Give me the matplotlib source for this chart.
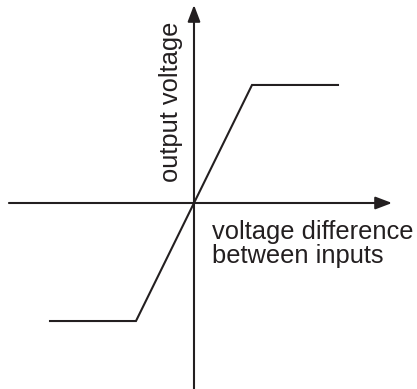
import matplotlib
matplotlib.use("Agg")
import matplotlib.pyplot as plt

# Transfer characteristic (comparator / saturating amplifier)
input_difference = [-1.25, -0.5, 0.5, 1.25]
output_voltage = [-1.0, -1.0, 1.0, 1.0]

x_label_lines = ["voltage difference", "between inputs"]
y_label = "output voltage"

ink = "#231f20"
plt.rcParams['font.family'] = ['Liberation Sans', 'DejaVu Sans']

fig = plt.figure(figsize=(4.17, 3.89), dpi=100)
ax = fig.add_axes([0, 0, 1, 1])
ax.set_xlim(-1.672, 1.922)
ax.set_ylim(-1.576, 1.720)
ax.axis('off')

# axes with arrowheads
arrow = dict(arrowstyle='-|>,head_length=1.0,head_width=0.38', lw=1.5,
             color=ink, shrinkA=0, shrinkB=0)
ax.annotate('', xy=(1.707, 0), xytext=(-1.595, 0), arrowprops=arrow)
ax.annotate('', xy=(0, 1.678), xytext=(0, -1.576), arrowprops=arrow)

# transfer curve
ax.plot(input_difference, output_voltage, color=ink, lw=1.5,
        solid_joinstyle='miter', solid_capstyle='butt')

fs = 18.4
ax.text(-0.138, 0.856, y_label, rotation=90, rotation_mode='anchor',
        ha='center', va='baseline', fontsize=fs, color=ink)
ax.text(0.155, -0.305, x_label_lines[0], ha='left', va='baseline',
        fontsize=fs, color=ink)
ax.text(0.155, -0.508, x_label_lines[1], ha='left', va='baseline',
        fontsize=fs, color=ink)

fig.savefig("out.png", dpi=100)
